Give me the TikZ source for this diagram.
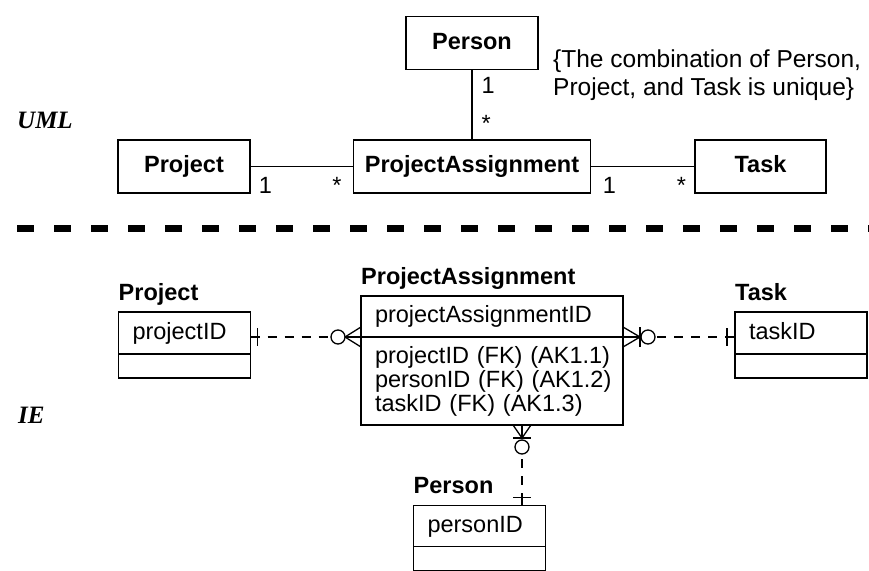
\documentclass[tikz,border=0pt]{standalone}
\usepackage{fontspec}
\setmainfont{Liberation Sans}
\newfontfamily\serifbi{Liberation Serif}
\usetikzlibrary{positioning}

\begin{document}
\begin{tikzpicture}
[x=1pt,y=-1pt,
  umlbox/.style={draw,line width=1.3pt,inner sep=0pt,outer sep=0pt,minimum width=132pt,minimum height=53pt,text height=17pt,text depth=5pt,font=\bfseries\fontsize{23.5}{24}\selectfont},
  umlline/.style={line width=1.3pt},
  mult/.style={inner sep=2pt,font=\fontsize{23.5}{24}\selectfont},
  keybox/.style={draw,line width=1.3pt,outer sep=0pt,inner xsep=14pt,inner ysep=0pt,minimum height=42pt,text width=104pt,align=left,text height=17pt,text depth=5pt,font=\fontsize{23.5}{24}\selectfont},
  attrbox/.style={draw,line width=1.3pt,outer sep=0pt,inner sep=0pt,minimum width=132pt,minimum height=24pt},
  attrtext/.style={draw,line width=1.3pt,outer sep=0pt,inner xsep=14pt,inner ysep=0pt,text width=234pt,minimum height=88pt,align=left,font=\fontsize{23.5}{24}\selectfont},
  entitytitle/.style={anchor=base west,inner sep=0pt,yshift=12pt,font=\bfseries\fontsize{23.5}{24}\selectfont},
  notation/.style={anchor=base west,inner sep=0pt,font=\serifbi\bfseries\itshape\fontsize{25}{25}\selectfont},
  separator/.style={line width=7pt,dash pattern=on 17pt off 20pt},
  iedash/.style={line width=1.3pt,dash pattern=on 9pt off 8pt},
  ieend/.style={line width=1.3pt}]
\useasboundingbox (0,0) rectangle (869,570);
% UML part
\node (umllabel) at (17,128) [notation] {UML};
\node (umlperson) at (472,43) [umlbox] {Person};
\node (umlproject) at (184,166.5) [umlbox] {Project};
\node (umlassign) at (472,166.5) [umlbox,minimum width=237pt] {ProjectAssignment};
\node (umltask) at (760.5,166.5) [umlbox,minimum width=131pt] {Task};
\node (umlnote) at (553,49.5) [anchor=north west,align=left,inner sep=0pt,font=\fontsize{24.5}{28}\selectfont]
  {\{The combination of Person,\\Project, and Task is unique\}};
\path
(umlproject) edge[umlline] node[mult,pos=0.15,below=8pt]{1} node[mult,pos=0.84,below=8pt]{*} (umlassign)
(umlassign) edge[umlline] node[mult,pos=0.18,below=8pt]{1} node[mult,pos=0.87,below=8pt]{*} (umltask)
(umlperson) edge[umlline] node[mult,pos=0.23,right=7pt]{1} node[mult,pos=0.77,right=7pt]{*} (umlassign);
% separator
\coordinate (sepleft) at (17,228);
\coordinate (sepright) at (869,228);
\draw[separator] (sepleft) -- (sepright);
% IE part
\node (ielabel) at (18,423) [notation] {IE};
\node (projkey) at (184.5,333) [keybox] {projectID};
\node (projattr) [attrbox,below=0pt of projkey] {};
\node (projtitle) at (projkey.north west) [entitytitle] {Project};
\node (taskkey) at (801,333) [keybox] {taskID};
\node (taskattr) [attrbox,below=0pt of taskkey] {};
\node (tasktitle) at (taskkey.north west) [entitytitle] {Task};
\node (assignkey) at (492,316.5) [keybox,text width=234pt,minimum height=41pt] {projectAssignmentID};
\node (assignattr) [attrtext,below=0pt of assignkey]
  {\mbox{projectID (FK) (AK1.1)}\\\mbox{personID (FK) (AK1.2)}\\\mbox{taskID (FK) (AK1.3)}};
\node (assigntitle) at (assignkey.north west) [entitytitle] {ProjectAssignment};
\node (personkey) at (479.5,526) [keybox,minimum height=41pt] {personID};
\node (personattr) [attrbox,below=0pt of personkey] {};
\node (persontitle) at (personkey.north west) [entitytitle] {Person};
% relationships
\coordinate (pjone) at (projkey.east |- assignkey.south west);
\coordinate (pjmany) at (assignkey.south west);
\draw[iedash] (pjone) -- (pjmany);
\draw[ieend] (pjone) -- ++(7,0) ++(0,-9) -- ++(0,18);
\draw[ieend] (pjmany) ++(0,-10) -- ++(-16,10) -- ++(16,10);
\draw[ieend] (pjmany) -- ++(-16,0);
\draw[ieend,fill=white] (pjmany) ++(-23,0) circle[radius=7];
\coordinate (tkmany) at (assignkey.south east);
\coordinate (tkone) at (taskkey.west |- assignkey.south east);
\draw[iedash] (tkmany) -- (tkone);
\draw[ieend] (tkmany) ++(0,-10) -- ++(17,10) -- ++(-17,10);
\draw[ieend] (tkmany) -- ++(17,0) ++(0,-10) -- ++(0,20);
\draw[ieend,fill=white] (tkmany) ++(25,0) circle[radius=7];
\draw[ieend] (tkone) -- ++(-8,0) ++(0,-9) -- ++(0,18);
\coordinate (psmany) at ([xshift=161pt]assignattr.south west);
\coordinate (psone) at (psmany |- personkey.north);
\draw[iedash] (psmany) -- (psone);
\draw[ieend] (psmany) ++(-9,0) -- ++(9,13) -- ++(9,-13);
\draw[ieend] (psmany) -- ++(0,13) ++(-9,0) -- ++(18,0);
\draw[ieend,fill=white] (psmany) ++(0,22) circle[radius=7];
\draw[ieend] (psone) -- ++(0,-8) ++(-9,0) -- ++(18,0);
\end{tikzpicture}
\end{document}
